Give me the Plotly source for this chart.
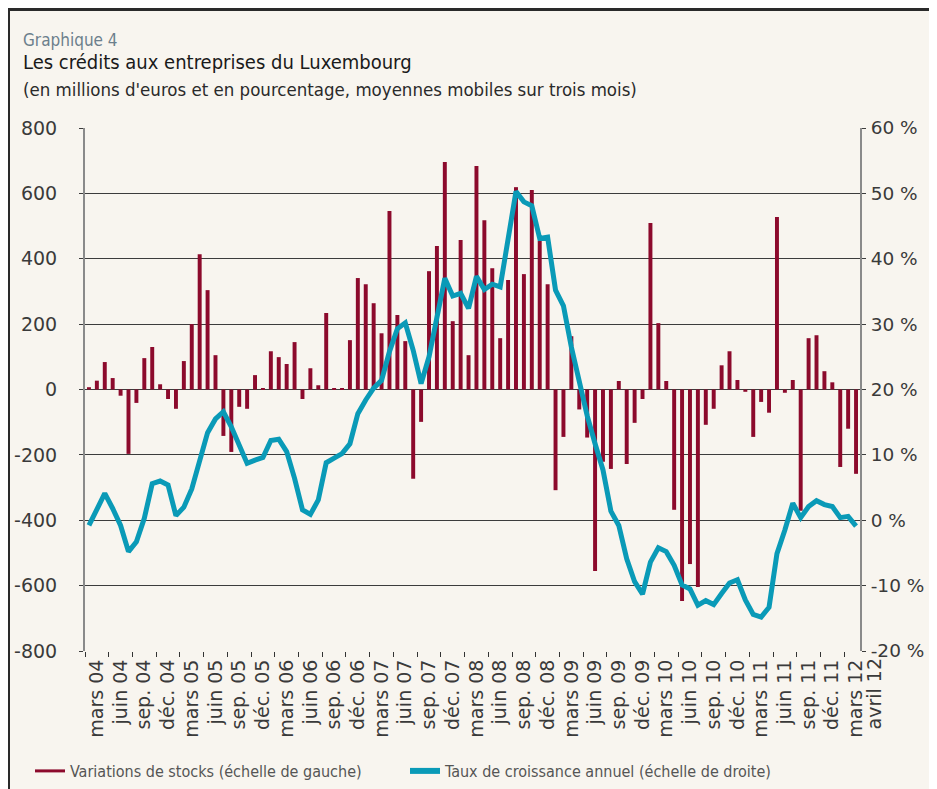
import plotly.graph_objects as go

# Monthly data, Feb 2004 .. Mar 2012 (98 months)
stocks = [7, 27, 84, 35, -19, -197, -41, 96, 130, 16, -29, -59,
          87, 200, 414, 304, 105, -142, -191, -53, -59, 44, 4, 117,
          99, 78, 145, -29, 65, 13, 234, 4, 4, 151, 341, 322,
          264, 172, 546, 228, 148, -273, -99, 362, 439, 696, 209, 457,
          105, 684, 518, 371, 157, 335, 619, 353, 610, 454, 322, -308,
          -145, 163, -61, -147, -555, -221, -243, 26, -228, -102, -29, 509,
          203, 26, -368, -647, -534, -604, -108, -59, 74, 117, 29, -7,
          -145, -38, -71, 528, -10, 29, -371, 157, 166, 56, 22, -237,
          -120, -258]

taux = [-0.8, 1.8, 4.1, 1.8, -0.8, -4.8, -3.3, 0.3, 5.6, 6.0, 5.4, 0.7,
        2.0, 4.8, 9.4, 13.4, 15.5, 16.6, 14.3, 11.7, 8.7, 9.2, 9.6, 12.2,
        12.4, 10.5, 6.4, 1.6, 0.9, 3.1, 8.8, 9.5, 10.2, 11.7, 16.3, 18.4,
        20.2, 21.4, 25.8, 29.3, 30.2, 26.0, 20.9, 25.0, 30.6, 37.0, 34.3, 34.7,
        32.4, 37.3, 35.3, 36.1, 35.7, 42.9, 50.3, 48.7, 48.1, 43.1, 43.3, 35.2,
        32.8, 26.5, 20.9, 16.0, 11.7, 7.7, 1.4, -0.8, -5.9, -9.4, -11.3, -6.4,
        -4.2, -4.8, -6.9, -9.9, -10.5, -13.0, -12.3, -12.9, -11.2, -9.6, -9.1, -12.2,
        -14.4, -14.8, -13.3, -5.1, -1.5, 2.6, 0.4, 2.1, 3.0, 2.4, 2.1, 0.4,
        0.6, -0.9]

months = list(range(len(stocks)))

tick_labels = ["mars 04", "juin 04", "sep. 04", "déc. 04",
               "mars 05", "juin 05", "sep. 05", "déc. 05",
               "mars 06", "juin 06", "sep. 06", "déc. 06",
               "mars 07", "juin 07", "sep. 07", "déc. 07",
               "mars 08", "juin 08", "sep. 08", "déc. 08",
               "mars 09", "juin 09", "sep. 09", "déc. 09",
               "mars 10", "juin 10", "sep. 10", "déc. 10",
               "mars 11", "juin 11", "sep. 11", "déc. 11",
               "mars 12"]
last_label = "avril 12"

left_ticks = [800, 600, 400, 200, 0, -200, -400, -600, -800]
left_text = ["800", "600", "400", "200", "0", "-200", "-400", "-600", "-800"]
right_ticks = [60, 50, 40, 30, 20, 10, 0, -10, -20]
right_text = ["60 %", "50 %", "40 %", "30 %", "20 %", "10 %", "0 %", "-10 %", "-20 %"]

name_bar = "Variations de stocks (échelle de gauche)"
name_line = "Taux de croissance annuel (échelle de droite)"
surtitre = "Graphique 4"
titre = "Les crédits aux entreprises du Luxembourg"
soustitre = "(en millions d'euros et en pourcentage, moyennes mobiles sur trois mois)"

RED = "#8c0a2c"
TEAL = "#0a9ab7"
BG = "#f8f5ef"
BEIGE = "#e6dfcd"
FONT = "DejaVu Sans Condensed, DejaVu Sans, sans-serif"
TICKFONT = "DejaVu Sans, sans-serif"

# the page body has an 8 px margin: work in page coordinates and shift
OFF = 8
W, H = 937 - OFF, 789 - OFF
L, R, T, B = 85 - OFF, 860 - OFF, 128 - OFF, 651 - OFF


def px(xp):
    return (xp - OFF - L) / (R - L)


def py(yp):
    return (B - (yp - OFF)) / (B - T)


fig = go.Figure()
fig.add_trace(go.Bar(x=months, y=stocks, marker_color=RED, marker_line_width=0,
                     showlegend=False, yaxis="y"))
fig.add_trace(go.Scatter(x=months, y=taux, mode="lines", yaxis="y2",
                         line=dict(color=TEAL, width=5), showlegend=False))
# legend proxies
fig.add_trace(go.Scatter(x=[None], y=[None], mode="lines", name=name_bar,
                         line=dict(color=RED, width=3)))
fig.add_trace(go.Scatter(x=[None], y=[None], mode="lines", name=name_line,
                         line=dict(color=TEAL, width=6)))

fig.update_layout(
    width=W, height=H,
    margin=dict(l=L, r=W - R, t=T, b=H - B, pad=0),
    paper_bgcolor=BG, plot_bgcolor=BG,
    font=dict(family=FONT, size=16, color="#3a3a3a"),
    bargap=0.5,
    xaxis=dict(range=[-0.5, len(stocks) - 0.5], tickmode="array",
               tickvals=[1 + 3 * i for i in range(len(tick_labels))],
               ticktext=tick_labels, tickangle=-90, ticks="outside", ticklen=0,
               tickfont=dict(family=TICKFONT, size=19, color="#3a3a3a"),
               showgrid=False, zeroline=False, showline=False, automargin=False,
               minor=dict(tickmode="array",
                          tickvals=[-0.5 + 3 * i for i in range(34)],
                          ticks="outside", ticklen=5, tickcolor="#333",
                          showgrid=False)),
    yaxis=dict(range=[-800, 800], tickmode="array", tickvals=left_ticks,
               ticktext=left_text, showgrid=True, gridcolor="#3c3c3c",
               gridwidth=1, zeroline=False, ticks="outside", ticklen=4,
               tickcolor="#3c3c3c", showline=True, linecolor="#8a8a8a",
               linewidth=2, ticklabelstandoff=18, automargin=False,
               tickfont=dict(family=TICKFONT, size=19, color="#3a3a3a")),
    yaxis2=dict(range=[-20, 60], overlaying="y", side="right", tickmode="array",
                tickvals=right_ticks, ticktext=right_text, showgrid=False,
                zeroline=False, ticks="outside", ticklen=4, tickcolor="#3c3c3c",
                showline=True, linecolor="#8a8a8a", linewidth=2,
                ticklabelstandoff=1, automargin=False,
                tickfont=dict(family=TICKFONT, size=18.5, color="#3a3a3a")),
    legend=dict(orientation="h", xref="container", yref="container",
                x=(30 - OFF) / W, xanchor="left",
                y=(H - (771 - OFF)) / H, yanchor="middle",
                font=dict(size=16, color="#555555"),
                bgcolor="rgba(0,0,0,0)", entrywidth=330, itemwidth=30),
)

annotations = [
    dict(text=surtitre, x=px(21), y=py(40), xanchor="left", yanchor="middle",
         font=dict(size=17, color="#6c7f8c")),
    dict(text=titre, x=px(21), y=py(62), xanchor="left", yanchor="middle",
         font=dict(size=20, color="#1a1a1a")),
    dict(text=soustitre, x=px(21), y=py(89), xanchor="left", yanchor="middle",
         font=dict(size=18.5, color="#2a2a2a")),
    dict(text=last_label, x=px(873), y=py(657), xanchor="center", yanchor="top",
         textangle=-90, font=dict(family=TICKFONT, size=19, color="#3a3a3a")),
]
for a in annotations:
    a.update(xref="paper", yref="paper", showarrow=False)
fig.update_layout(annotations=annotations)

shapes = [
    dict(type="rect", x0=px(0), x1=px(950), y0=py(0), y1=py(8.5),
         fillcolor=BEIGE, line_width=0),
    dict(type="rect", x0=px(8), x1=px(950), y0=py(8), y1=py(11),
         fillcolor="#2a2a2a", line_width=0),
    dict(type="rect", x0=px(8), x1=px(10), y0=py(8), y1=py(800),
         fillcolor="#2a2a2a", line_width=0),
]
for s in shapes:
    s.update(xref="paper", yref="paper", layer="above")
fig.update_layout(shapes=shapes)

fig.write_html("out.html")
